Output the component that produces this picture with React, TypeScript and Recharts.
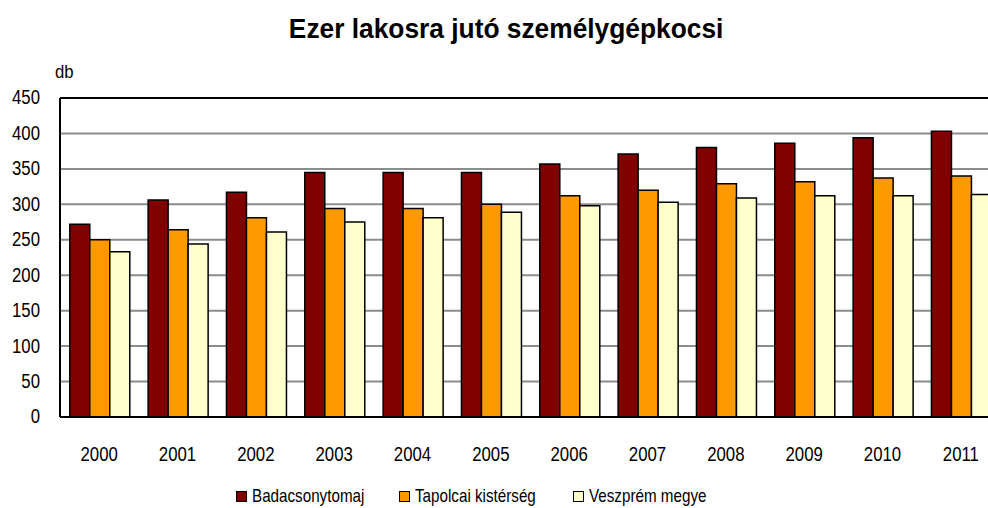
import React from 'react';
import { BarChart, Bar, XAxis, YAxis, CartesianGrid, ReferenceLine } from 'recharts';

const years = ['2000', '2001', '2002', '2003', '2004', '2005', '2006', '2007', '2008', '2009', '2010', '2011'];
const badacsonytomaj = [272, 306, 317, 345, 345, 345, 357, 371, 380, 386, 394, 403];
const tapolcai = [250, 264, 281, 294, 294, 300, 312, 320, 329, 332, 337, 340];
const veszprem = [233, 244, 261, 275, 281, 289, 298, 303, 309, 312, 312, 314];
const yTicks = [0, 50, 100, 150, 200, 250, 300, 350, 400, 450];

const seriesNames = ['Badacsonytomaj', 'Tapolcai kistérség', 'Veszprém megye'];
const seriesColors = ['#800000', '#FF9900', '#FFFFCC'];

const data = years.map((y, i) => ({
  year: y,
  a: badacsonytomaj[i],
  b: tapolcai[i],
  c: veszprem[i],
}));

const FONT = "'Liberation Sans', Arial, sans-serif";

const legendLefts = [236, 399, 573];

const YTick = (props: any) => {
  const { x, y, payload } = props;
  return (
    <text transform={`translate(${x},${y}) scale(0.86,1)`} x={0} y={0} textAnchor="end" dominantBaseline="central" fontSize={19.5} fontFamily={FONT} fill="#000">
      {payload.value}
    </text>
  );
};

const XTick = (props: any) => {
  const { x, y, payload } = props;
  return (
    <text transform={`translate(${x},${y}) scale(0.8,1)`} x={0} y={0} dy="0.71em" textAnchor="middle" fontSize={21} fontFamily={FONT} fill="#000">
      {payload.value}
    </text>
  );
};

export default function App() {
  return (
    <div style={{ position: 'absolute', left: 0, top: 0, width: 988, height: 508, overflow: 'hidden', background: '#fff', fontFamily: FONT }}>
      <div style={{ position: 'absolute', left: 0, top: 12, width: 1012, textAlign: 'center', lineHeight: '34px' }}>
        <span style={{ display: 'inline-block', fontWeight: 'bold', fontSize: 28, color: '#000', transform: 'scaleX(0.94)', whiteSpace: 'nowrap' }}>
          Ezer lakosra jutó személygépkocsi
        </span>
      </div>
      <div style={{ position: 'absolute', left: 55, top: 60, fontSize: 19, color: '#000', lineHeight: '24px', transform: 'scaleX(0.88)', transformOrigin: 'left center' }}>db</div>
      <div style={{ position: 'absolute', left: 0, top: 0 }}>
        <BarChart width={1012} height={480} data={data} margin={{ top: 98, right: 12, bottom: 3, left: 0 }} barCategoryGap="12.5%" barGap={0}>
          <CartesianGrid vertical={false} stroke="#8c8c8c" strokeWidth={2} />
          <XAxis
            dataKey="year"
            height={60}
            tickLine={false}
            tickSize={0}
            tickMargin={29}
            axisLine={{ stroke: '#000', strokeWidth: 2 }}
            tick={<XTick />}
          />
          <YAxis
            width={60}
            domain={[0, 450]}
            ticks={yTicks}
            interval={0}
            tickLine={false}
            tickSize={0}
            tickMargin={20}
            axisLine={{ stroke: '#000', strokeWidth: 2 }}
            tick={<YTick />}
          />
          <ReferenceLine y={450} stroke="#000" strokeWidth={2} />
          <Bar dataKey="a" name={seriesNames[0]} fill={seriesColors[0]} stroke="#000" strokeWidth={1.5} isAnimationActive={false} />
          <Bar dataKey="b" name={seriesNames[1]} fill={seriesColors[1]} stroke="#000" strokeWidth={1.5} isAnimationActive={false} />
          <Bar dataKey="c" name={seriesNames[2]} fill={seriesColors[2]} stroke="#000" strokeWidth={1.5} isAnimationActive={false} />
        </BarChart>
      </div>
      {seriesNames.map((n, i) => (
        <div key={n} style={{ position: 'absolute', left: legendLefts[i], top: 485, height: 22, display: 'flex', alignItems: 'center', color: '#000', whiteSpace: 'nowrap' }}>
          <span style={{ display: 'inline-block', width: 9, height: 9, background: seriesColors[i], border: '1.5px solid #000', marginRight: 5 }} />
          <span style={{ display: 'inline-block', fontSize: 19, lineHeight: '22px', transform: 'scaleX(0.8)', transformOrigin: 'left center' }}>{n}</span>
        </div>
      ))}
    </div>
  );
}
